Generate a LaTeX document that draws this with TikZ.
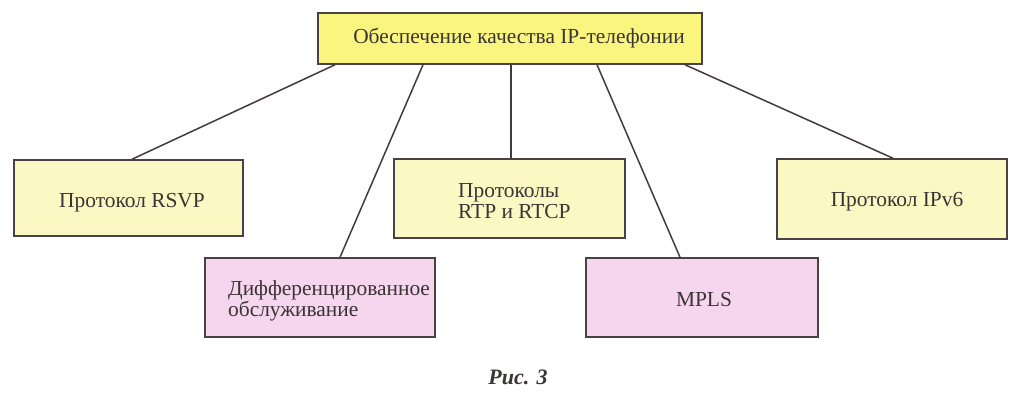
\documentclass[tikz,border=0pt]{standalone}
\usepackage{fontspec}
\setmainfont{Liberation Serif}
\definecolor{topfill}{HTML}{FAF57E}
\definecolor{palefill}{HTML}{FCF8C4}
\definecolor{pinkfill}{HTML}{F6D6EE}
\definecolor{edge}{HTML}{4A4242}
\definecolor{ink}{HTML}{3A3434}
\begin{document}
\begin{tikzpicture}[x=1pt,y=-1pt,
  box/.style={draw=edge,line width=1.5pt,inner sep=0pt},
  lbl/.style={text=ink,font=\fontsize{21.4}{20.5}\selectfont,inner sep=0pt},
  link/.style={draw=edge!90!black,line width=1.5pt}]
\useasboundingbox (0,0) rectangle (1024,400);
% boxes
\node[box,fill=topfill,minimum width=384pt,minimum height=51pt] (top) at (510,38.5) {};
\node[box,fill=palefill,minimum width=229pt,minimum height=76pt] (rsvp) at (128.5,198) {};
\node[box,fill=palefill,minimum width=231pt,minimum height=79pt] (rtp) at (509.5,198.5) {};
\node[box,fill=palefill,minimum width=230pt,minimum height=80pt] (ipv6) at (892,199) {};
\node[box,fill=pinkfill,minimum width=230pt,minimum height=79pt] (diff) at (320,297.5) {};
\node[box,fill=pinkfill,minimum width=232pt,minimum height=79pt] (mpls) at (702,297.5) {};
% texts
\node[lbl] (ttop) at (519,38) {Обеспечение качества IP-телефонии};
\node[lbl] (trsvp) at (132,203) {Протокол RSVP};
\node[lbl,align=left,anchor=west] (trtp) at (458,201) {Протоколы\\RTP и RTCP};
\node[lbl] (tipv6) at (897,202) {Протокол IPv6};
\node[lbl,align=left,anchor=west] (tdiff) at (228,301) {Дифференцированное\\обслуживание};
\node[lbl] (tmpls) at (704,300) {MPLS};
\node[text=ink,font=\fontsize{22}{22}\selectfont\bfseries\itshape,inner sep=0pt] (cap) at (518,377) {Рис. 3};
% connectors
\draw[link] ([xshift=-175pt]top.south) -- ([xshift=3.5pt]rsvp.north);
\draw[link] ([xshift=-87pt]top.south) -- ([xshift=20pt]diff.north);
\draw[link] ([xshift=1pt]top.south) -- ([xshift=1.5pt]rtp.north);
\draw[link] ([xshift=87pt]top.south) -- ([xshift=-22pt]mpls.north);
\draw[link] ([xshift=175pt]top.south) -- ([xshift=1pt]ipv6.north);
\end{tikzpicture}
\end{document}
